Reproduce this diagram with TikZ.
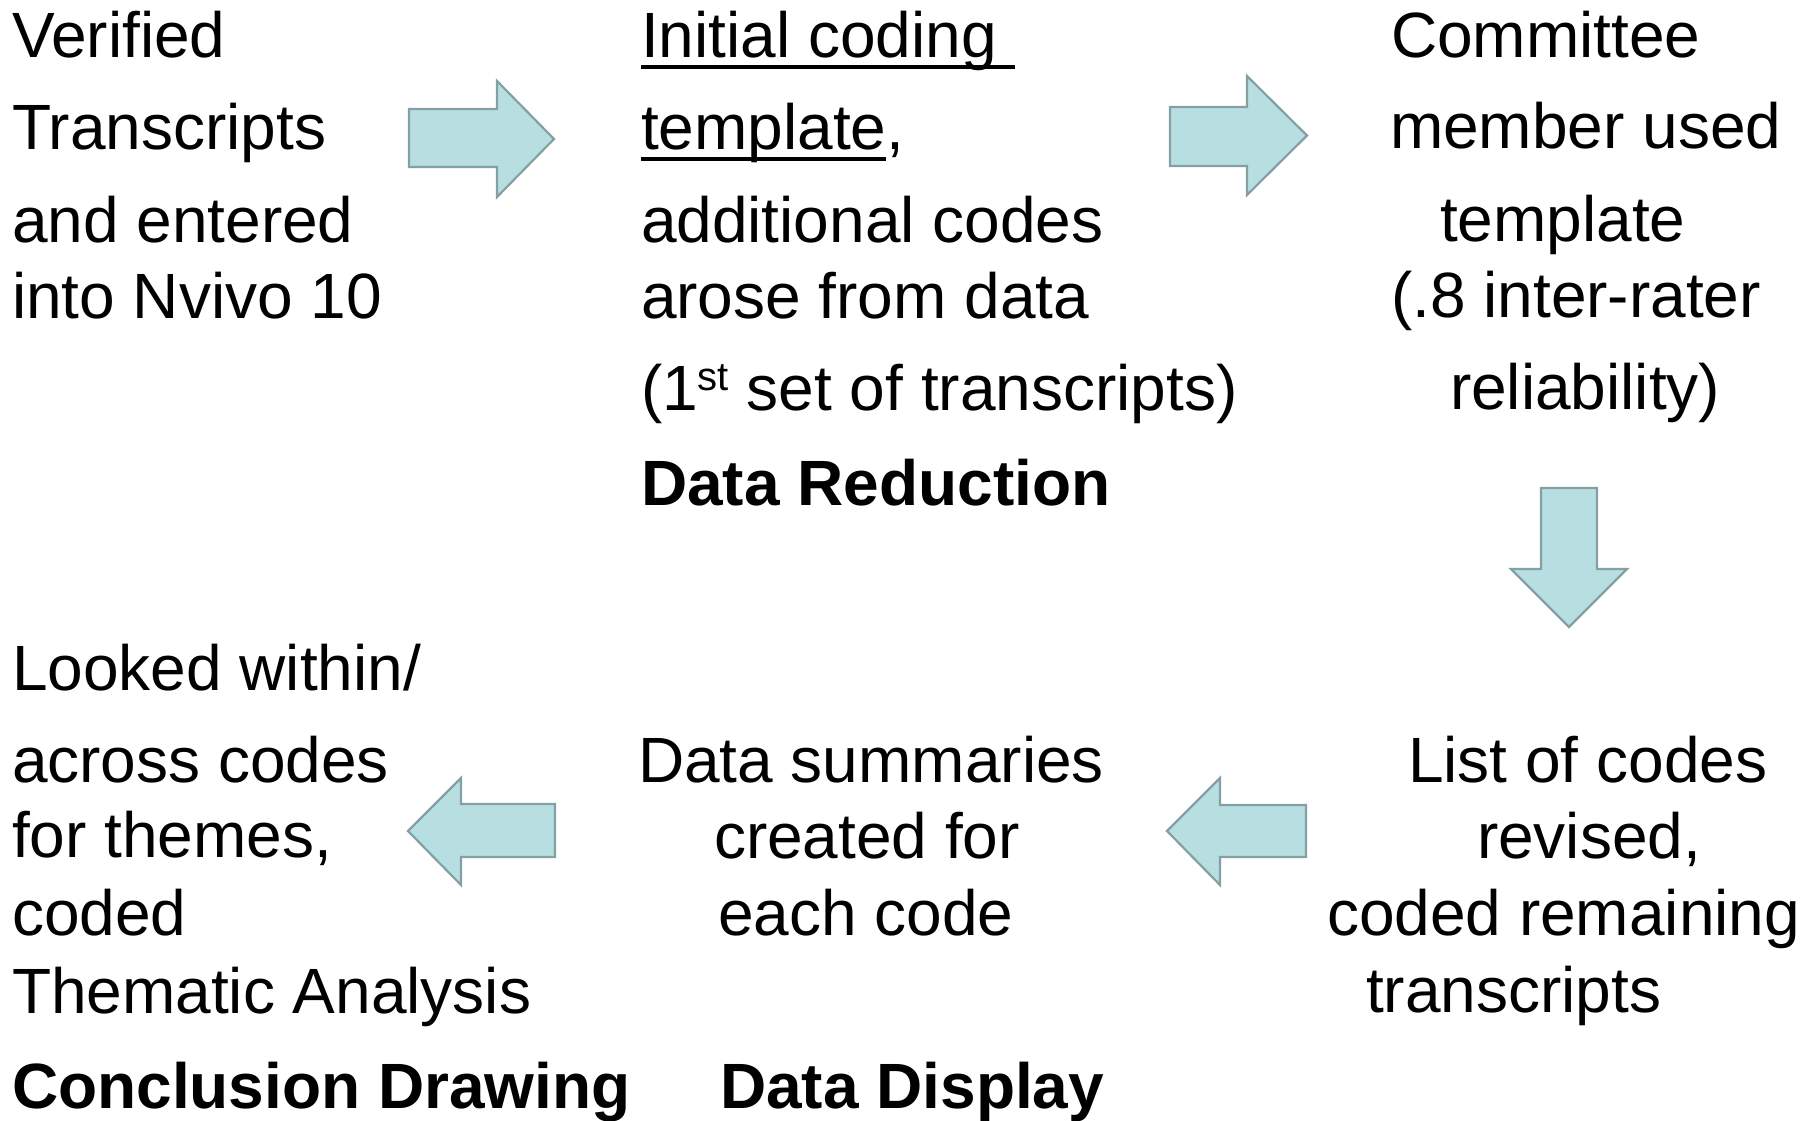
\documentclass[tikz,border=0pt]{standalone}
\usepackage{fontspec}
\setmainfont{Liberation Sans}
\definecolor{arrfill}{RGB}{183,222,225}
\definecolor{arrline}{RGB}{132,160,163}
\newcommand\ulbox[1]{\setbox0\hbox{#1}\rlap{\rule[-11.5bp]{\wd0}{4bp}}\box0}
\newcommand\supst[1]{\raisebox{20bp}{\fontsize{40bp}{40bp}\selectfont #1}}
\begin{document}
\begin{tikzpicture}[x=1bp,y=-1bp,
  txt/.style={anchor=base west,inner sep=0pt,outer sep=0pt,font=\fontsize{64bp}{77bp}\selectfont},
  btxt/.style={txt,font=\fontsize{64bp}{77bp}\selectfont\bfseries},
  blockarr/.style={fill=arrfill,draw=arrline,line width=2.2bp,line join=miter}]
\useasboundingbox (0,0) rectangle (1817,1120);
\fill[white] (0,0) rectangle (1817,1120);

% top-left block
\node[txt] (a1) at (12,57) {Verified};
\node[txt] (a2) at (12,149) {Transcripts};
\node[txt] (a3) at (12,242) {and entered};
\node[txt] (a4) at (12,318) {into Nvivo 10};

% top-middle block
\node[txt] (b1) at (641,57) {\ulbox{Initial coding\ }};
\node[txt] (b2) at (641,149) {\ulbox{template},};
\node[txt] (b3) at (641,242) {additional codes};
\node[txt] (b4) at (641,318) {arose from data};
\node[txt] (b5) at (641,410) {(1\supst{st} set of transcripts)};
\node[btxt] (b6) at (641,505) {Data Reduction};

% top-right block
\node[txt] (c1) at (1391,57) {Committee};
\node[txt] (c2) at (1390,148) {member used};
\node[txt] (c3) at (1440,241) {template};
\node[txt] (c4) at (1391,317) {(.8 inter-rater};
\node[txt] (c5) at (1450,409) {reliability)};

% bottom-right block
\node[txt] (d1) at (1408,782) {List of codes};
\node[txt] (d2) at (1477,858) {revised,};
\node[txt] (d3) at (1327,935) {coded remaining};
\node[txt] (d4) at (1366,1012) {transcripts};

% bottom-middle block
\node[txt] (e1) at (638,782) {Data summaries};
\node[txt] (e2) at (714,858) {created for};
\node[txt] (e3) at (718,935) {each code};
\node[btxt] (e4) at (720,1108) {Data Display};

% bottom-left block
\node[txt] (f1) at (12,690) {Looked within/};
\node[txt] (f2) at (12,782) {across codes};
\node[txt] (f3) at (12,857) {for themes,};
\node[txt] (f4) at (12,935) {coded};
\node[txt] (f5) at (12,1013) {Thematic Analysis};
\node[btxt] (f6) at (12,1108) {Conclusion Drawing};

% block arrows
\draw[blockarr] (409,109) -- (497,109) -- (497,81) -- (554,139) -- (497,197) -- (497,167) -- (409,167) -- cycle;
\draw[blockarr] (1170,107) -- (1247,107) -- (1247,76) -- (1307,135.5) -- (1247,195) -- (1247,166) -- (1170,166) -- cycle;
\draw[blockarr] (1541,488) -- (1597,488) -- (1597,569) -- (1627,569) -- (1569,627) -- (1511,569) -- (1541,569) -- cycle;
\draw[blockarr] (1306,805) -- (1220,805) -- (1220,778) -- (1167,831) -- (1220,885) -- (1220,857) -- (1306,857) -- cycle;
\draw[blockarr] (555,804) -- (461,804) -- (461,778) -- (408,831) -- (461,885) -- (461,857) -- (555,857) -- cycle;
\end{tikzpicture}
\end{document}
